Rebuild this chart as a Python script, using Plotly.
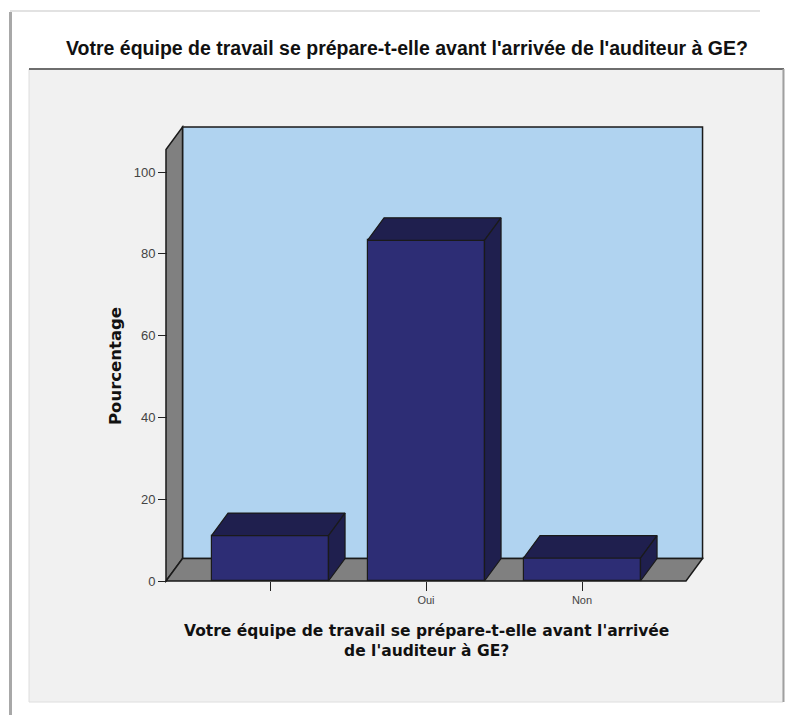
import plotly.graph_objects as go

# ---- data -------------------------------------------------------------
categories = ["", "Oui", "Non"]
percentages = [11.1, 83.3, 5.6]
y_ticks = [0, 20, 40, 60, 80, 100]

title_text = "Votre équipe de travail se prépare-t-elle avant l'arrivée de l'auditeur à GE?"
x_title_text = "Votre équipe de travail se prépare-t-elle avant l'arrivée<br>de l'auditeur à GE?"
y_title_text = "Pourcentage"

# ---- geometry ---------------------------------------------------------
FIG_W, FIG_H = 792, 715
M_L, M_R, M_T, M_B = 150, 80, 120, 120
PLOT_W = FIG_W - M_L - M_R
PLOT_H = FIG_H - M_T - M_B

X_RANGE = [-0.76923, 2.83333]
Y_RANGE = [-3.423, 112.714]

BAR_W = 0.75
DEPTH_X = 0.106          # oblique depth, category units
DEPTH_Y = 5.5            # oblique depth, percent units
X_LEFT, X_RIGHT = -0.6667, 2.6667
Y_TOP = 111.0

FRONT = "#2d2d75"
DARK = "#1f1f4e"
WALL = "#b0d3f0"
GREY = "#808080"
EDGE = "#1a1a1a"


def px_x(p):
    return (p - M_L) / PLOT_W


def px_y(p):
    return (FIG_H - M_B - p) / PLOT_H


def poly(pts):
    return "M " + " L ".join(f"{x},{y}" for x, y in pts) + " Z"


fig = go.Figure()

# front faces of the bars
fig.add_trace(go.Bar(
    x=list(range(len(categories))), y=percentages, width=BAR_W,
    marker=dict(color=FRONT, line=dict(color=EDGE, width=1.2)),
    hoverinfo="skip", showlegend=False,
))

# top and side faces, derived from the same values
for i, v in enumerate(percentages):
    x0, x1 = i - BAR_W / 2, i + BAR_W / 2
    top = [(x0, v), (x1, v), (x1 + DEPTH_X, v + DEPTH_Y), (x0 + DEPTH_X, v + DEPTH_Y), (x0, v)]
    side = [(x1, 0), (x1 + DEPTH_X, DEPTH_Y), (x1 + DEPTH_X, v + DEPTH_Y), (x1, v), (x1, 0)]
    for face in (top, side):
        fig.add_trace(go.Scatter(
            x=[p[0] for p in face], y=[p[1] for p in face],
            mode="lines", fill="toself", fillcolor=DARK,
            line=dict(color=EDGE, width=1.2),
            hoverinfo="skip", showlegend=False,
        ))

shapes = []

# outer frame and panel
shapes.append(dict(type="line", xref="paper", yref="paper",
                   x0=px_x(10.5), x1=px_x(10.5), y0=px_y(12), y1=px_y(715),
                   line=dict(color="#a8a8a8", width=3), layer="below"))
shapes.append(dict(type="line", xref="paper", yref="paper",
                   x0=px_x(10), x1=px_x(760), y0=px_y(11), y1=px_y(11),
                   line=dict(color="#e2e2e2", width=2), layer="below"))
shapes.append(dict(type="rect", xref="paper", yref="paper",
                   x0=px_x(29), x1=px_x(783), y0=px_y(702), y1=px_y(69),
                   fillcolor="#f1f1f1", line=dict(color="#dedede", width=1), layer="below"))
shapes.append(dict(type="line", xref="paper", yref="paper",
                   x0=px_x(29), x1=px_x(784), y0=px_y(69), y1=px_y(69),
                   line=dict(color="#6e6e6e", width=2), layer="below"))
shapes.append(dict(type="line", xref="paper", yref="paper",
                   x0=px_x(783.5), x1=px_x(783.5), y0=px_y(69), y1=px_y(702),
                   line=dict(color="#a0a0a0", width=2), layer="below"))

# back wall, left wall and floor of the chart box
shapes.append(dict(type="rect", xref="x", yref="y",
                   x0=X_LEFT + DEPTH_X, x1=X_RIGHT + DEPTH_X, y0=DEPTH_Y, y1=Y_TOP,
                   fillcolor=WALL, line=dict(color=EDGE, width=1.5), layer="below"))
shapes.append(dict(type="path", xref="x", yref="y",
                   path=poly([(X_LEFT, 0), (X_LEFT + DEPTH_X, DEPTH_Y),
                              (X_LEFT + DEPTH_X, Y_TOP), (X_LEFT, Y_TOP - DEPTH_Y)]),
                   fillcolor=GREY, line=dict(color=EDGE, width=1.5), layer="below"))
shapes.append(dict(type="path", xref="x", yref="y",
                   path=poly([(X_LEFT, 0), (X_RIGHT, 0),
                              (X_RIGHT + DEPTH_X, DEPTH_Y), (X_LEFT + DEPTH_X, DEPTH_Y)]),
                   fillcolor=GREY, line=dict(color=EDGE, width=1.5), layer="below"))

annotations = [
    dict(text=f"<b>{title_text}</b>", xref="paper", yref="paper",
         x=px_x(407), y=px_y(48), xanchor="center", yanchor="middle", showarrow=False,
         font=dict(family="Liberation Sans, Arial", size=19.5, color="#111")),
    dict(text=f"<b>{x_title_text}</b>", xref="paper", yref="paper",
         x=px_x(426), y=px_y(641), xanchor="center", yanchor="middle", showarrow=False,
         font=dict(family="DejaVu Sans, Verdana", size=15.5, color="#111")),
    dict(text=f"<b>{y_title_text}</b>", xref="paper", yref="paper",
         x=px_x(115), y=px_y(366), xanchor="center", yanchor="middle", showarrow=False,
         textangle=-90,
         font=dict(family="DejaVu Sans, Verdana", size=16.5, color="#111")),
]

fig.update_layout(
    width=FIG_W, height=FIG_H,
    margin=dict(l=M_L, r=M_R, t=M_T, b=M_B),
    paper_bgcolor="white", plot_bgcolor="#f1f1f1",
    shapes=shapes, annotations=annotations,
    bargap=0,
    xaxis=dict(range=X_RANGE, anchor="free", position=(595 - 581) / PLOT_H,
               tickmode="array", tickvals=list(range(len(categories))), ticktext=categories,
               ticks="outside", ticklen=9, tickwidth=1, tickcolor="#222",
               showgrid=False, zeroline=False, showline=False,
               tickfont=dict(family="Liberation Sans, Arial", size=11, color="#444")),
    yaxis=dict(range=Y_RANGE, anchor="free", position=(167 - M_L) / PLOT_W,
               tickmode="array", tickvals=y_ticks,
               ticks="outside", ticklen=9, tickwidth=1, tickcolor="#222",
               showgrid=False, zeroline=False, showline=False,
               tickfont=dict(family="Liberation Sans, Arial", size=13, color="#444")),
)

fig.write_html("out.html")
